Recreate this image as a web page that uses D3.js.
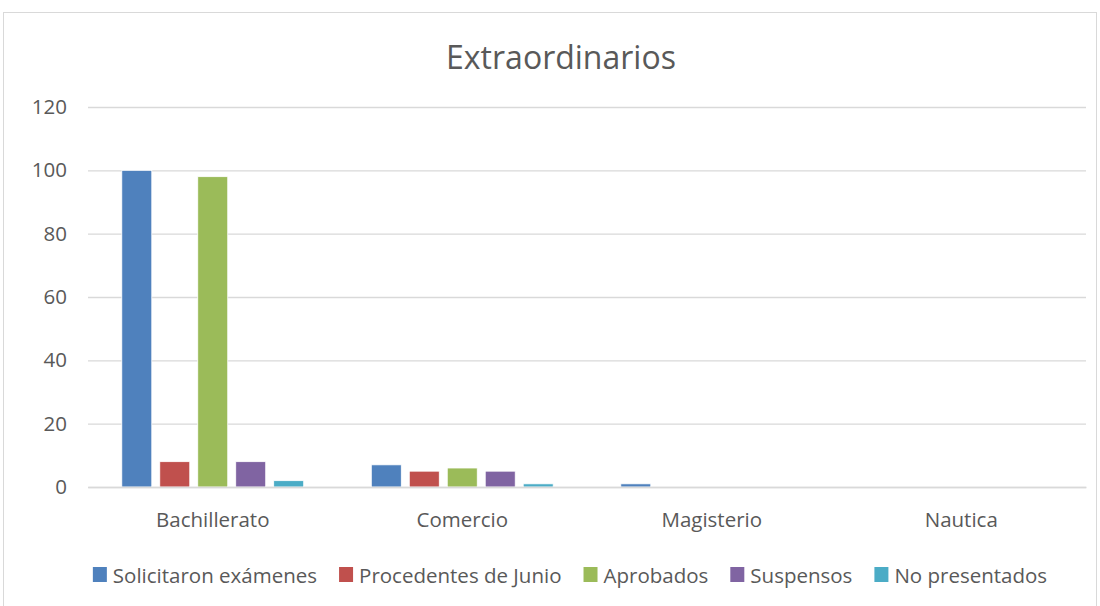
<!DOCTYPE html>
<html><head><meta charset="utf-8">
<script src="https://cdn.jsdelivr.net/npm/d3@7"></script>
<style>body{margin:0;background:#fff}svg{display:block}text{font-family:"Open Sans",sans-serif}</style>
</head><body>
<svg id="c" width="1100" height="606"></svg>
<script>
const categories = ["Bachillerato","Comercio","Magisterio","Nautica"];
const seriesNames = ["Solicitaron exámenes","Procedentes de Junio","Aprobados","Suspensos","No presentados"];
const seriesColors = ["#4f81bd","#c0504d","#9bbb59","#8064a2","#4bacc6"];
const solicitaron = [100,7,1,0];
const procedentes = [8,5,0,0];
const aprobados = [98,6,0,0];
const suspensos = [8,5,0,0];
const noPresentados = [2,1,0,0];
const yTicks = [0,20,40,60,80,100,120];
const title = "Extraordinarios";

const seriesValues = [solicitaron,procedentes,aprobados,suspensos,noPresentados];
const svg = d3.select("#c");
svg.append("rect").attr("x",3.5).attr("y",12.5).attr("width",1093).attr("height",600)
  .attr("fill","#fff").attr("stroke","#d9d9d9");

const m = {l:88,r:1086,t:107,b:487};
const x = d3.scaleBand().domain(categories).range([m.l,m.r]);
const x1 = d3.scaleBand().domain(seriesNames).range([0,x.bandwidth()]).paddingInner(0.21).paddingOuter(0.89);
const y = d3.scaleLinear().domain([0,120]).range([m.b,m.t]);

const grid = svg.append("g").attr("transform",`translate(${m.l},0)`)
  .call(d3.axisLeft(y).tickValues(yTicks).tickSize(-(m.r-m.l)).tickPadding(21));
grid.select(".domain").remove();
grid.selectAll(".tick line").attr("stroke","#d9d9d9").attr("stroke-width",1.3);
grid.selectAll(".tick text").attr("fill","#595959").attr("font-size",20.5);

const groups = svg.append("g").selectAll("g").data(categories).join("g")
  .attr("transform",d=>`translate(${x(d)},0)`);
groups.selectAll("rect").data((c,i)=>seriesNames.map((s,j)=>({s,v:seriesValues[j][i],c:seriesColors[j]})))
  .join("rect")
  .attr("x",d=>x1(d.s)).attr("width",x1.bandwidth())
  .attr("y",d=>y(d.v)).attr("height",d=>y(0)-y(d.v))
  .attr("fill",d=>d.c).attr("stroke","#fff").attr("stroke-width",d=>d.v>0?0.8:0);

const xa = svg.append("g").attr("transform",`translate(0,${m.b})`).call(d3.axisBottom(x).tickSize(0).tickPadding(0));
xa.select(".domain").attr("stroke","#d9d9d9").attr("stroke-width",1.3);
xa.selectAll(".tick text").attr("fill","#595959").attr("font-size",20.5).attr("dy",null).attr("y",40);

svg.append("text").attr("x",561).attr("y",69).attr("text-anchor","middle")
  .attr("fill","#595959").attr("font-size",32).text(title);

// legend
const lg = svg.append("g");
const items = lg.selectAll("g").data(seriesNames).join("g");
items.append("rect").attr("y",-16).attr("width",14).attr("height",15).attr("fill",(d,i)=>seriesColors[i]);
items.append("text").attr("x",20).attr("y",0).attr("font-size",20.5).attr("fill","#595959").text(d=>d);
let widths = [];
items.each(function(){widths.push(this.getBBox().width);});
const gap = 22;
const total = d3.sum(widths)+gap*(widths.length-1);
let cx = 570 - total/2;
items.attr("transform",(d,i)=>{const t=`translate(${cx},583)`; cx+=widths[i]+gap; return t;});
</script>
</body></html>
